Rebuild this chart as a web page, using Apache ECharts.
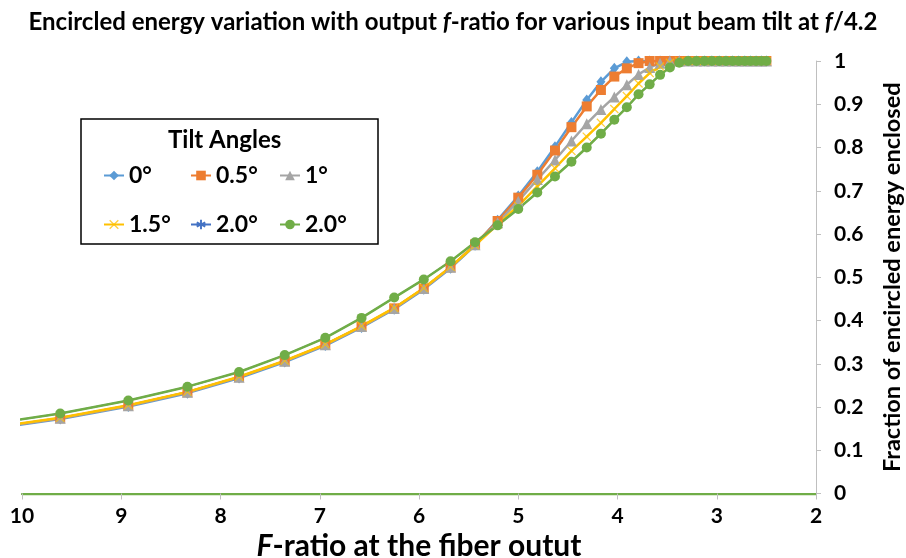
<!DOCTYPE html>
<html><head><meta charset="utf-8">
<script src="https://cdn.jsdelivr.net/npm/echarts@6/dist/echarts.min.js"></script>
<style>html,body{margin:0;padding:0;background:#fff}#c{width:906px;height:558px}</style>
</head><body><div id="c"></div>
<script>
// F-ratio (x) values of the samples
const fRatio = [10.417, 9.615, 8.929, 8.333, 7.813, 7.353, 6.944, 6.579, 6.25, 5.952, 5.682, 5.435, 5.208, 5.0, 4.808, 4.63, 4.464, 4.31, 4.167, 4.032, 3.906, 3.788, 3.676, 3.571, 3.472, 3.378, 3.289, 3.205, 3.125, 3.049, 2.976, 2.907, 2.841, 2.778, 2.717, 2.66, 2.604, 2.551, 2.5];
const tilt0   = [0.146, 0.172, 0.201, 0.232, 0.267, 0.304, 0.342, 0.384, 0.426, 0.472, 0.521, 0.574, 0.632, 0.688, 0.744, 0.802, 0.858, 0.910, 0.952, 0.983, 0.998, 1, 1, 1, 1, 1, 1, 1, 1, 1, 1, 1, 1, 1, 1, 1, 1, 1, 1];
const tilt05  = [0.148, 0.174, 0.203, 0.234, 0.269, 0.306, 0.344, 0.386, 0.428, 0.474, 0.523, 0.576, 0.630, 0.684, 0.737, 0.793, 0.847, 0.895, 0.933, 0.964, 0.983, 0.995, 1, 1, 1, 1, 1, 1, 1, 1, 1, 1, 1, 1, 1, 1, 1, 1, 1];
const tilt1   = [0.148, 0.174, 0.203, 0.234, 0.269, 0.306, 0.344, 0.386, 0.428, 0.474, 0.523, 0.575, 0.626, 0.676, 0.726, 0.771, 0.815, 0.855, 0.888, 0.917, 0.945, 0.969, 0.985, 0.995, 1, 1, 1, 1, 1, 1, 1, 1, 1, 1, 1, 1, 1, 1, 1];
const tilt15  = [0.149, 0.175, 0.204, 0.235, 0.270, 0.307, 0.345, 0.387, 0.429, 0.475, 0.524, 0.574, 0.622, 0.665, 0.710, 0.752, 0.792, 0.825, 0.857, 0.889, 0.919, 0.948, 0.972, 0.987, 0.996, 1, 1, 1, 1, 1, 1, 1, 1, 1, 1, 1, 1, 1, 1];
const tilt20a = [0.157, 0.185, 0.215, 0.247, 0.281, 0.320, 0.360, 0.406, 0.453, 0.495, 0.537, 0.581, 0.620, 0.658, 0.696, 0.733, 0.767, 0.800, 0.832, 0.864, 0.893, 0.923, 0.946, 0.968, 0.985, 0.996, 1, 1, 1, 1, 1, 1, 1, 1, 1, 1, 1, 1, 1];
const tilt20b = [0.157, 0.185, 0.215, 0.247, 0.281, 0.320, 0.360, 0.406, 0.453, 0.495, 0.537, 0.581, 0.620, 0.658, 0.696, 0.733, 0.767, 0.800, 0.832, 0.864, 0.893, 0.923, 0.946, 0.968, 0.985, 0.996, 1, 1, 1, 1, 1, 1, 1, 1, 1, 1, 1, 1, 1];
const seriesNames = ['0°', '0.5°', '1°', '1.5°', '2.0°', '2.0° '];
const xTicks = [10, 9, 8, 7, 6, 5, 4, 3, 2];

const FONT = 'Lato, "Noto Sans", sans-serif';
const pair = ys => fRatio.map((x, i) => [x, ys[i]]);
const xPath = 'path://M1,0 L5,4 L9,0 L10,1 L6,5 L10,9 L9,10 L5,6 L1,10 L0,9 L4,5 L0,1 Z';
const starPath = 'path://M4,0 L6,0 L6,3.5 L9,2 L10,4 L6.8,5 L10,6 L9,8 L6,6.5 L6,10 L4,10 L4,6.5 L1,8 L0,6 L3.2,5 L0,4 L1,2 L4,3.5 Z';

const defs = [
  {d: tilt0,   c: '#5B9BD5', s: 'diamond', z: [9, 11]},
  {d: tilt05,  c: '#ED7D31', s: 'rect', z: 10},
  {d: tilt1,   c: '#A5A5A5', s: 'triangle', z: 11},
  {d: tilt15,  c: '#FFC000', s: xPath, z: 9, op: 0.75},
  {d: tilt20a, c: '#4472C4', s: starPath, z: 6, lw: 1.5},
  {d: tilt20b, c: '#70AD47', s: 'circle', z: 10}
];

const series = defs.map((o, i) => ({
  name: seriesNames[i], type: 'line', data: pair(o.d), clip: true,
  symbol: o.s, symbolSize: o.z, showSymbol: true,
  lineStyle: {color: o.c, width: o.lw || 2.5},
  itemStyle: {color: o.c, opacity: o.op || 1},
  emphasis: {disabled: true}
}));

const legendPos = [[103, 164], [190, 164], [279, 164], [103, 213], [190, 213], [279, 213]];
const legends = seriesNames.map((n, i) => ({
  data: [n], left: legendPos[i][0], top: legendPos[i][1], padding: 0, itemGap: 0,
  itemWidth: 20, itemHeight: 12, selectedMode: false,
  textStyle: {fontFamily: FONT, fontWeight: 'bold', fontSize: 23, color: '#000'}
}));

const chart = echarts.init(document.getElementById('c'));
chart.setOption({
  animation: false,
  backgroundColor: '#fff',
  title: {
    text: 'Encircled energy variation with output {i|f}-ratio for various input beam tilt at {i|f}/4.2',
    left: 'center', top: 5,
    textStyle: {fontFamily: FONT, fontWeight: 'bold', fontSize: 24, color: '#000',
      rich: {i: {fontFamily: FONT, fontWeight: 'bold', fontStyle: 'italic', fontSize: 24, color: '#000'}}}
  },
  legend: legends,
  graphic: [
    {type: 'rect', shape: {x: 81, y: 119, width: 297, height: 125}, style: {fill: 'none', stroke: '#000', lineWidth: 1.5}, z: 100},
    {type: 'text', left: 168, top: 128, style: {text: 'Tilt Angles', fontFamily: FONT, fontWeight: 'bold', fontSize: 24, fill: '#000'}, z: 100}
  ],
  grid: {left: 22, right: 90, top: 61, bottom: 64.5, containLabel: false, outerBoundsMode: 'none'},
  xAxis: {
    type: 'value', inverse: true, min: 2, max: 10, interval: 1,
    name: '{i|F}-ratio at the fiber outut', nameLocation: 'middle', nameGap: 35,
    nameTextStyle: {fontFamily: FONT, fontWeight: 'bold', fontSize: 30, color: '#000',
      rich: {i: {fontFamily: FONT, fontWeight: 'bold', fontStyle: 'italic', fontSize: 30, color: '#000'}}},
    axisLine: {lineStyle: {color: '#70AD47', width: 2.25}},
    axisTick: {length: 6, lineStyle: {color: '#BFBFBF'}},
    splitLine: {show: false},
    axisLabel: {margin: 12, fontFamily: FONT, fontWeight: 'bold', fontSize: 21, color: '#000',
      formatter: v => xTicks.includes(v) ? String(v) : ''}
  },
  yAxis: {
    type: 'value', position: 'right', min: 0, max: 1, interval: 0.1,
    name: 'Fraction of encircled energy enclosed', nameLocation: 'middle', nameGap: 64,
    nameTextStyle: {fontFamily: FONT, fontWeight: 'bold', fontSize: 23.5, color: '#000'},
    axisLine: {show: true, lineStyle: {color: '#BFBFBF', width: 1}},
    axisTick: {show: true, length: 5, lineStyle: {color: '#BFBFBF'}},
    splitLine: {show: false},
    axisLabel: {margin: 18, fontFamily: FONT, fontWeight: 'bold', fontSize: 21, color: '#000'}
  },
  series: series
});
</script></body></html>
